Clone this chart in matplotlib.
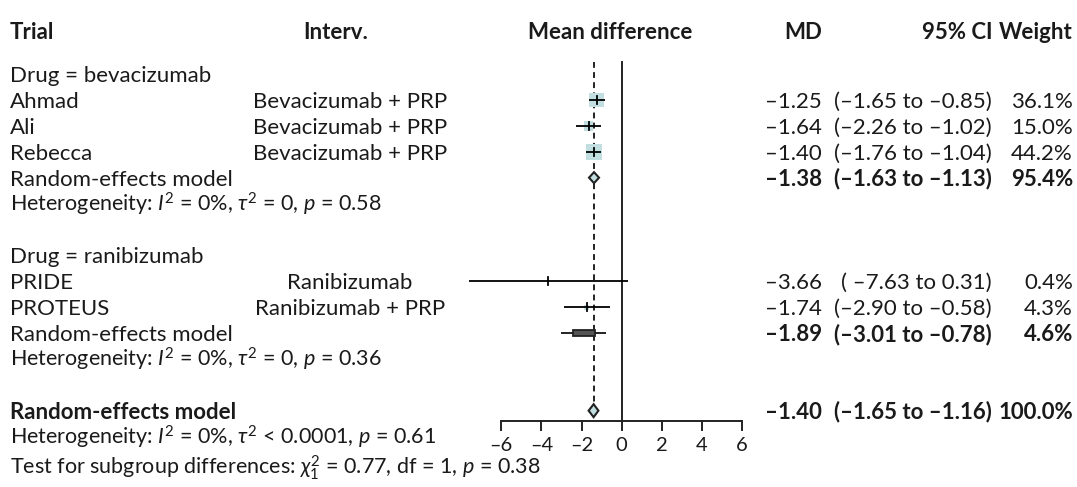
import numpy as np
import matplotlib
matplotlib.use("Agg")
import matplotlib.pyplot as plt
from matplotlib.patches import Rectangle, Polygon

plt.rcParams["font.family"] = ["Lato", "DejaVu Sans"]
plt.rcParams["mathtext.fontset"] = "custom"
plt.rcParams["mathtext.rm"] = "Lato"
plt.rcParams["mathtext.it"] = "Lato:italic"
plt.rcParams["mathtext.bf"] = "Lato:bold"

# ---- study data ----
trials = ["Ahmad", "Ali", "Rebecca", "PRIDE", "PROTEUS"]
interventions = ["Bevacizumab + PRP", "Bevacizumab + PRP", "Bevacizumab + PRP",
                 "Ranibizumab", "Ranibizumab + PRP"]
md = [-1.25, -1.64, -1.40, -3.66, -1.74]
ci_low = [-1.65, -2.26, -1.76, -7.63, -2.90]
ci_high = [-0.85, -1.02, -1.04, 0.31, -0.58]
weights = [36.1, 15.0, 44.2, 0.4, 4.3]

# ---- subgroup data ----
groups = ["Drug = bevacizumab", "Drug = ranibizumab"]
group_members = [[0, 1, 2], [3, 4]]
sub_md = [-1.38, -1.89]
sub_low = [-1.63, -3.01]
sub_high = [-1.13, -0.78]
sub_weight = [95.4, 4.6]
sub_het = [r"Heterogeneity: $I^2$ = 0%, $\tau^2$ = 0, $p$ = 0.58",
           r"Heterogeneity: $I^2$ = 0%, $\tau^2$ = 0, $p$ = 0.36"]

# ---- overall ----
all_md = -1.40
all_low = -1.65
all_high = -1.16
all_weight = 100.0
all_het = r"Heterogeneity: $I^2$ = 0%, $\tau^2$ < 0.0001, $p$ = 0.61"
test_text = r"Test for subgroup differences: $\chi^2_1$ = 0.77, df = 1, $p$ = 0.38"

xticks = [-6, -4, -2, 0, 2, 4, 6]
headers = ["Trial", "Interv.", "Mean difference", "MD", "95% CI", "Weight"]

# ---- styling ----
W, H = 1077, 487
TXT = "#1a1a1a"
FILL = "#c2dee1"
FS = 16
FS_MATH = 15.5
ROW0, STEP = 74.1, 25.89
BASE = 8.0                      # baseline offset from row centre
X0_PX, PX_PER_UNIT = 621.7, 20.06
X_LEFT_PX = X0_PX - 6 * PX_PER_UNIT
X_RIGHT_PX = X0_PX + 6 * PX_PER_UNIT
UNIT_PER_PX = 1.0 / PX_PER_UNIT

COL_TRIAL = 10
COL_INTERV = 350
COL_MD = 822
COL_CI = 992
COL_W = 1073


def fmt(v):
    return f"{v:.2f}".replace("-", "\u2013")


def ci_text(lo, hi):
    pad = " " if hi >= 0 else ""
    return f"({pad}{fmt(lo)} to {fmt(hi)})"


fig = plt.figure(figsize=(W / 100, H / 100), dpi=100)
ax = fig.add_axes([0, 0, 1, 1])
ax.set_xlim(0, W)
ax.set_ylim(H, 0)
ax.axis("off")

fa = fig.add_axes([X_LEFT_PX / W, 0, (X_RIGHT_PX - X_LEFT_PX) / W, 1])
fa.set_xlim(-6, 6)
fa.set_ylim(H, 0)
fa.axis("off")


def text(x, y, s, ha="left", bold=False, size=FS):
    ax.text(x, y, s, ha=ha, va="baseline", fontsize=size, color=TXT,
            fontweight="bold" if bold else "normal")


# headers
hy = 39
text(COL_TRIAL, hy, headers[0], bold=True)
text(336, hy, headers[1], ha="center", bold=True)
text(610, hy, headers[2], ha="center", bold=True)
text(COL_MD, hy, headers[3], ha="right", bold=True)
text(993, hy, headers[4], ha="right", bold=True)
text(COL_W, hy, headers[5], ha="right", bold=True)

# row layout
rows = []
for g in range(len(groups)):
    rows.append(("group", g))
    for s in group_members[g]:
        rows.append(("study", s))
    rows.append(("sub", g))
    rows.append(("het", g))
    rows.append(("blank", None))
rows.append(("overall", None))
rows.append(("het_all", None))
rows.append(("test", None))


def row_y(i):
    return ROW0 + STEP * i


overall_y = None
for i, (kind, k) in enumerate(rows):
    y = row_y(i)
    tb = y + BASE
    if kind == "group":
        text(COL_TRIAL, tb, groups[k])
    elif kind == "study":
        text(COL_TRIAL, tb, trials[k])
        text(COL_INTERV, tb, interventions[k], ha="center")
        text(COL_MD, tb, fmt(md[k]), ha="right")
        text(COL_CI, tb, ci_text(ci_low[k], ci_high[k]), ha="right")
        text(COL_W, tb, f"{weights[k]:.1f}%", ha="right")
        side = 2.42 * np.sqrt(weights[k])
        fa.add_patch(Rectangle((md[k] - side / 2 * UNIT_PER_PX, y - side / 2),
                               side * UNIT_PER_PX, side, facecolor=FILL,
                               edgecolor="none", zorder=2))
        fa.plot([ci_low[k], ci_high[k]], [y, y], color="black", lw=1.3,
                zorder=3, clip_on=False, solid_capstyle="butt")
        fa.plot([md[k], md[k]], [y - 4, y + 4], color="black", lw=1.3,
                zorder=3, clip_on=False)
    elif kind == "sub":
        text(COL_TRIAL, tb, "Random-effects model")
        text(COL_MD, tb, fmt(sub_md[k]), ha="right", bold=True)
        text(COL_CI, tb, ci_text(sub_low[k], sub_high[k]), ha="right", bold=True)
        text(COL_W, tb, f"{sub_weight[k]:.1f}%", ha="right", bold=True)
        if sub_weight[k] > 50:
            h = 5.5
            fa.add_patch(Polygon([(sub_low[k], y), (sub_md[k], y - h),
                                  (sub_high[k], y), (sub_md[k], y + h)],
                                 closed=True, facecolor=FILL, edgecolor="#222222",
                                 lw=1.5, zorder=4))
        else:
            fa.plot([sub_low[k], sub_high[k]], [y, y], color="#222222", lw=1.4,
                    zorder=3, solid_capstyle="butt")
            half = 0.55
            fa.add_patch(Rectangle((sub_md[k] - half, y - 2.8), 2 * half, 5.6,
                                   facecolor="#555555", edgecolor="#222222",
                                   lw=1.3, zorder=4))
    elif kind == "het":
        text(COL_TRIAL, tb, sub_het[k], size=FS_MATH)
    elif kind == "overall":
        overall_y = y
        text(COL_TRIAL, tb, "Random-effects model", bold=True)
        text(COL_MD, tb, fmt(all_md), ha="right", bold=True)
        text(COL_CI, tb, ci_text(all_low, all_high), ha="right", bold=True)
        text(COL_W, tb, f"{all_weight:.1f}%", ha="right", bold=True)
        h = 6.5
        fa.add_patch(Polygon([(all_low, y), (all_md, y - h),
                              (all_high, y), (all_md, y + h)],
                             closed=True, facecolor=FILL, edgecolor="#222222",
                             lw=1.5, zorder=4))
    elif kind == "het_all":
        text(COL_TRIAL, tb, all_het, size=FS_MATH)
    elif kind == "test":
        text(COL_TRIAL, 474, test_text, size=FS_MATH)

# reference lines
axis_y = 421
fa.plot([0, 0], [62, axis_y], color="#222222", lw=1.4, zorder=1)
fa.plot([all_md, all_md], [62, overall_y - 7], color="#222222", lw=1.4,
        ls=(0, (3, 2.2)), zorder=1)

# x axis
fa.plot([xticks[0], xticks[-1]], [axis_y, axis_y], color="#222222", lw=1.4,
        solid_capstyle="butt", clip_on=False)
for t in xticks:
    fa.plot([t, t], [axis_y, axis_y + 9], color="#222222", lw=1.4, clip_on=False)
    fa.text(t, 451, f"{t}".replace("-", "\u2013"), ha="center", va="baseline",
            fontsize=14.5, color=TXT)

fig.savefig("out.png", dpi=100)
